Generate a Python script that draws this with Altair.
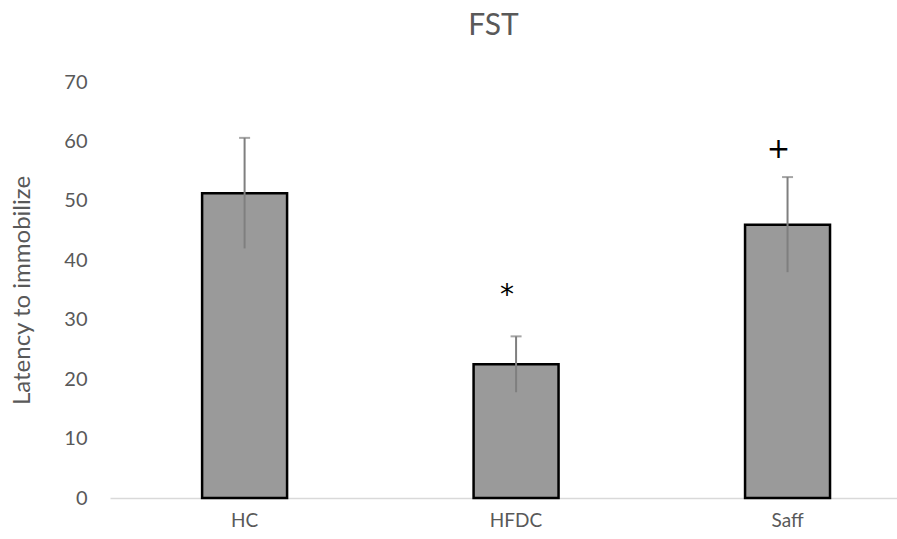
import altair as alt
import pandas as pd

groups = ["HC", "HFDC", "Saff"]
means = [51.3, 22.5, 46.0]
errors = [9.3, 4.7, 8.0]
marks = ["", "*", "+"]
mark_y = [0, 34.0, 58.6]

df = pd.DataFrame({
    "group": groups,
    "mean": means,
    "lo": [m - e for m, e in zip(means, errors)],
    "hi": [m + e for m, e in zip(means, errors)],
    "mark": marks,
    "mark_y": mark_y,
})

FONT = "Lato"
GREY = "#595959"

xscale = alt.Scale(domain=groups, paddingInner=0.687, paddingOuter=0.293, align=0.579)
yscale = alt.Scale(domain=[0, 70], nice=False)

x = alt.X("group:N", scale=xscale, sort=groups,
          axis=alt.Axis(title=None, labelAngle=0, labelFont=FONT, labelFontSize=19,
                        labelColor=GREY, labelPadding=13, ticks=False,
                        domainColor="#d9d9d9", domainWidth=1.5))

bars = alt.Chart(df).mark_bar(fill="#9a9a9a", stroke="black", strokeWidth=2.5).encode(
    x=x,
    y=alt.Y("mean:Q", scale=yscale,
            axis=alt.Axis(title="Latency to immobilize", values=[0, 10, 20, 30, 40, 50, 60, 70],
                          grid=False, domain=False, ticks=False, labelFont=FONT,
                          labelFontSize=20, labelColor=GREY, labelPadding=23,
                          titleFont=FONT, titleFontSize=24, titleFontWeight="normal",
                          titleColor=GREY, titleX=-88, titleY=208, titleBaseline="middle")),
)

rules = alt.Chart(df).mark_rule(color="#7f7f7f", strokeWidth=2).encode(
    x=alt.X("group:N", scale=xscale, sort=groups),
    y=alt.Y("lo:Q", scale=yscale),
    y2="hi:Q",
)

caps = alt.Chart(df).mark_tick(color="#7f7f7f", thickness=2, size=11).encode(
    x=alt.X("group:N", scale=xscale, sort=groups),
    y=alt.Y("hi:Q", scale=yscale),
)

ann = alt.Chart(df).mark_text(font="DejaVu Sans", fontSize=28, color="black", dx=-9,
                              baseline="middle").encode(
    x=alt.X("group:N", scale=xscale, sort=groups),
    y=alt.Y("mark_y:Q", scale=yscale),
    text="mark:N",
)

chart = alt.layer(bars, rules, caps, ann).properties(
    width=787, height=416,
    autosize=alt.AutoSizeParams(type="none"),
    padding={"left": 110, "right": 0, "top": 82, "bottom": 41},
    title=alt.TitleParams("FST", font=FONT, fontSize=30, fontWeight="normal",
                          color=GREY, anchor="middle", offset=31, dx=-10),
).configure(background="white").configure_view(stroke=None)

chart.save("out.html", embed_options={"renderer": "svg", "actions": False})
